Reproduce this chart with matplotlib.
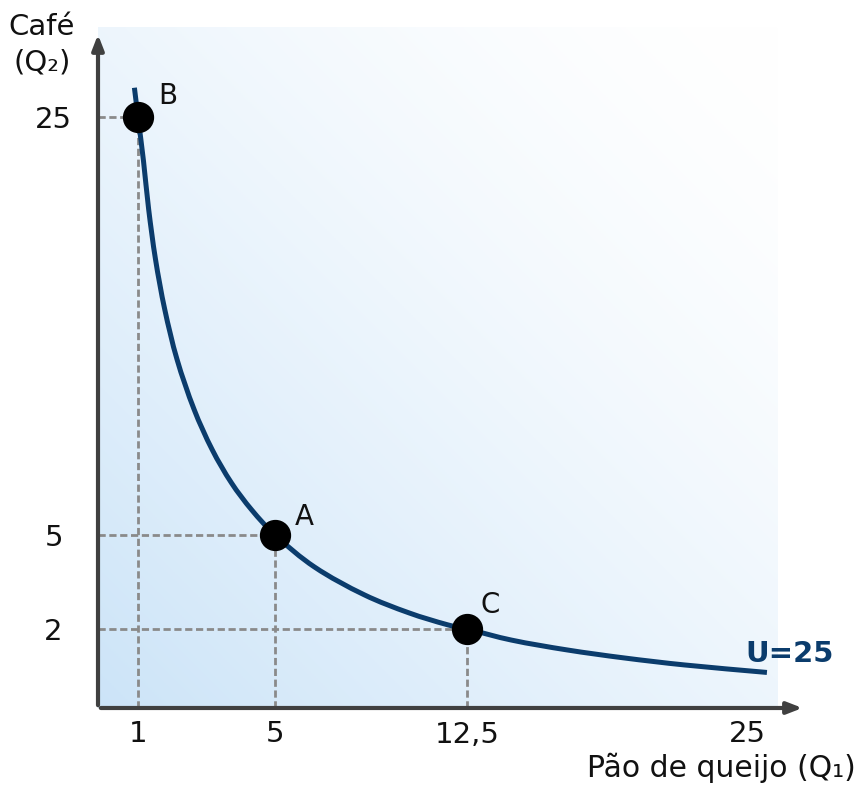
import numpy as np
import matplotlib
matplotlib.use("Agg")
import matplotlib.pyplot as plt
from matplotlib.path import Path
from matplotlib.patches import PathPatch

# --- data -------------------------------------------------------------------
# indifference curve U = 25
curva_x = [0.91, 1.0, 1.16, 1.31, 1.51, 1.78, 2.14, 2.64, 3.17, 3.73, 4.32, 5.0,
           6.54, 8.49, 10.25, 11.76, 12.5, 14.48, 16.97, 19.48, 22.21, 25.89]
curva_y = [26.4, 25.0, 22.9, 20.6, 18.2, 15.8, 13.4, 11.0, 9.07, 7.49, 6.20, 5.0,
           3.98, 3.09, 2.51, 2.13, 2.0, 1.72, 1.47, 1.27, 1.09, 0.90]

# marked baskets
pontos = ["B", "A", "C"]
pontos_x = [1, 5, 12.5]
pontos_y = [25, 5, 2]

xticks = [1, 5, 12.5, 25]
xtick_labels = ["1", "5", "12,5", "25"]
yticks = [2, 5, 25]
ytick_labels = ["2", "5", "25"]

# the drawing is not to scale: tick value -> pixel distance from origin
x_nos = [-10, 0, 1, 5, 12.5, 25, 50]
x_pix = [-400, 0, 40, 177, 369, 649, 1209]
y_nos = [-10, 0, 2, 5, 25, 50]
y_pix = [-395, 0, 79, 173, 591, 1113.5]

azul = "#0b3c6c"
cinza = "#8a8a8a"
eixo = "#404040"
texto = "#111111"


def fx(v):
    return np.interp(v, x_nos, x_pix)


def fx_inv(p):
    return np.interp(p, x_pix, x_nos)


def fy(v):
    return np.interp(v, y_nos, y_pix)


def fy_inv(p):
    return np.interp(p, y_pix, y_nos)


def caminho_suave(xs, ys):
    # smooth bezier path through the read points (built in drawing space)
    p = np.column_stack([fx(np.array(xs)), fy(np.array(ys))])
    n = len(p)
    tang = np.zeros_like(p)
    for i in range(n):
        d = p[min(i + 1, n - 1)] - p[max(i - 1, 0)]
        tang[i] = d / np.hypot(*d)
    verts = [p[0]]
    codes = [Path.MOVETO]
    for i in range(n - 1):
        L = np.hypot(*(p[i + 1] - p[i])) / 3
        verts += [p[i] + tang[i] * L, p[i + 1] - tang[i + 1] * L, p[i + 1]]
        codes += [Path.CURVE4] * 3
    verts = np.array(verts)
    verts = np.column_stack([fx_inv(verts[:, 0]), fy_inv(verts[:, 1])])
    return Path(verts, codes)


plt.rcParams["font.family"] = "DejaVu Sans"

fig = plt.figure(figsize=(8.62, 7.85), dpi=100)
ax = fig.add_axes([98 / 862, 77 / 785, 680 / 862, 681 / 785])
ax.set_xscale("function", functions=(fx, fx_inv))
ax.set_yscale("function", functions=(fy, fy_inv))
ax.set_xlim(0, fx_inv(680))
ax.set_ylim(0, fy_inv(681))

# background gradient, light blue at the origin fading to white
u, v = np.meshgrid(np.linspace(0, 1, 300), np.linspace(0, 1, 300))
s = (u + v) / 2
frac = (1 - s) ** 1.5
c0 = np.array([0.80, 0.894, 0.973])
img = np.ones((300, 300, 3)) - frac[..., None] * (1 - c0)
ax.imshow(img, extent=(0, 1, 0, 1), origin="lower", transform=ax.transAxes,
          aspect="auto", zorder=0)

for sp in ax.spines.values():
    sp.set_visible(False)

# dashed guides
for px, py in zip(pontos_x, pontos_y):
    l1, = ax.plot([0, px], [py, py], color=cinza, lw=2.0, zorder=1)
    l2, = ax.plot([px, px], [0, py], color=cinza, lw=2.0, zorder=1)
    l1.set_dashes((2.6, 1.3))
    l2.set_dashes((2.6, 1.3))

ax.add_patch(PathPatch(caminho_suave(curva_x, curva_y), fill=False,
                       edgecolor=azul, lw=3.6, capstyle="butt", zorder=2))
ax.plot(pontos_x, pontos_y, "o", color="black", ms=21.5, zorder=3)

offsets = {"B": (21.6, 15.1), "A": (20.9, 13.0), "C": (16.6, 17.3)}
for nome, px, py in zip(pontos, pontos_x, pontos_y):
    ax.annotate(nome, (px, py), xytext=offsets[nome], textcoords="offset points",
                ha="center", va="center", fontsize=20, color=texto)

ax.text(fx_inv(692), fy_inv(54), "U=25", color=azul, fontsize=21,
        fontweight="bold", ha="center", va="center")

# axes with arrow heads
ax.annotate("", xy=(1.04, 0), xytext=(0, 0), xycoords="axes fraction",
            arrowprops=dict(arrowstyle="-|>,head_width=0.35,head_length=0.9",
                            color=eixo, lw=3), annotation_clip=False)
ax.annotate("", xy=(0, 0.993), xytext=(0, 0), xycoords="axes fraction",
            arrowprops=dict(arrowstyle="-|>,head_width=0.35,head_length=0.9",
                            color=eixo, lw=3), annotation_clip=False)

ax.set_xticks(xticks)
ax.set_xticklabels(xtick_labels)
ax.set_yticks(yticks)
ax.set_yticklabels(ytick_labels)
ax.xaxis.set_minor_locator(matplotlib.ticker.NullLocator())
ax.yaxis.set_minor_locator(matplotlib.ticker.NullLocator())
ax.tick_params(axis="x", length=0, pad=9, labelsize=21, labelcolor=texto)
ax.tick_params(axis="y", length=0, pad=32, labelsize=21, labelcolor=texto)
for t in ax.get_yticklabels():
    t.set_ha("center")

fig.text(42 / 862, 1 - 27 / 785, "Café", ha="center", va="center",
         fontsize=21, color=texto)
fig.text(42 / 862, 1 - 63 / 785, "(Q₂)", ha="center", va="center",
         fontsize=21, color=texto)
fig.text(856 / 862, 1 - 768 / 785, "Pão de queijo (Q₁)", ha="right",
         va="center", fontsize=21.5, color=texto)

fig.savefig("out.png", dpi=100, facecolor="white")
